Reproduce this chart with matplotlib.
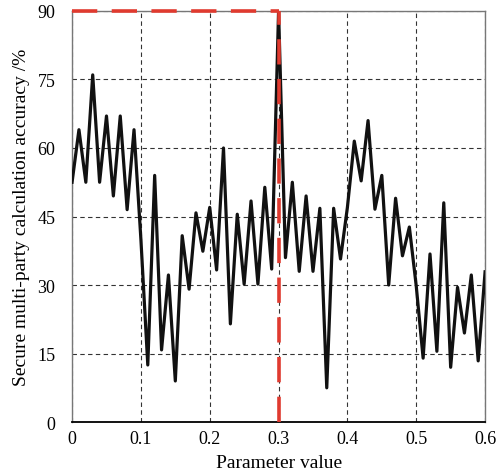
import numpy as np
import matplotlib
matplotlib.use('Agg')
import matplotlib.pyplot as plt

plt.rcParams['font.family'] = ['Liberation Serif', 'DejaVu Serif']

# parameter values 0.00 .. 0.60 step 0.01
param = [round(0.01 * i, 2) for i in range(61)]
accuracy = [52.5, 64, 52.5, 76, 52.5, 67, 49.5, 67, 46.5, 64,
            40, 12.5, 54, 15.8, 32.2, 9, 40.8, 29.1, 45.8, 37.4,
            47, 33.3, 60, 21.5, 45.5, 30.2, 48.4, 30.2, 51.4, 33.5,
            90, 36, 52.5, 33, 49.5, 33, 46.8, 7.5, 46.8, 35.7,
            47, 61.5, 52.8, 66, 46.6, 54, 30, 49, 36.4, 42.7,
            29.8, 14, 36.8, 15.5, 48, 12, 29.5, 19.5, 32.2, 13.4,
            32.9]
best_param = 0.3
best_acc = 90
xticks = [0, 0.1, 0.2, 0.3, 0.4, 0.5, 0.6]
xtick_labels = ['0', '0.1', '0.2', '0.3', '0.4', '0.5', '0.6']
yticks = [0, 15, 30, 45, 60, 75, 90]

fig = plt.figure(figsize=(4.97, 4.77), dpi=100)
ax = fig.add_axes([0.145, 0.113, 0.831, 0.862])

ax.plot(param, accuracy, color='#111111', lw=2.3, zorder=3)
ax.plot([0, best_param], [best_acc, best_acc], color='#e03a2f', lw=2.6,
        dashes=(7, 4), zorder=4, clip_on=False)
ax.plot([best_param, best_param], [0, best_acc], color='#e03a2f', lw=2.6,
        dashes=(7, 4), zorder=4, clip_on=False)

ax.set_xlim(0, 0.6)
ax.set_ylim(0, 90)
ax.set_xticks(xticks)
ax.set_xticklabels(xtick_labels)
ax.set_yticks(yticks)
ax.grid(True, color='black', linestyle=(0, (4, 3)), lw=0.8, alpha=0.8)
ax.tick_params(length=0, labelsize=13)
ax.tick_params(axis='y', pad=12)
ax.tick_params(axis='x', pad=6)
for s in ax.spines.values():
    s.set_color('#777777')
    s.set_linewidth(1.0)
ax.spines['bottom'].set_color('black')
ax.spines['bottom'].set_linewidth(1.3)

ax.set_xlabel('Parameter value', fontsize=14, labelpad=5)
ax.set_ylabel('Secure multi-party calculation accuracy /%', fontsize=14, labelpad=5)

fig.savefig('out.png', dpi=100)
